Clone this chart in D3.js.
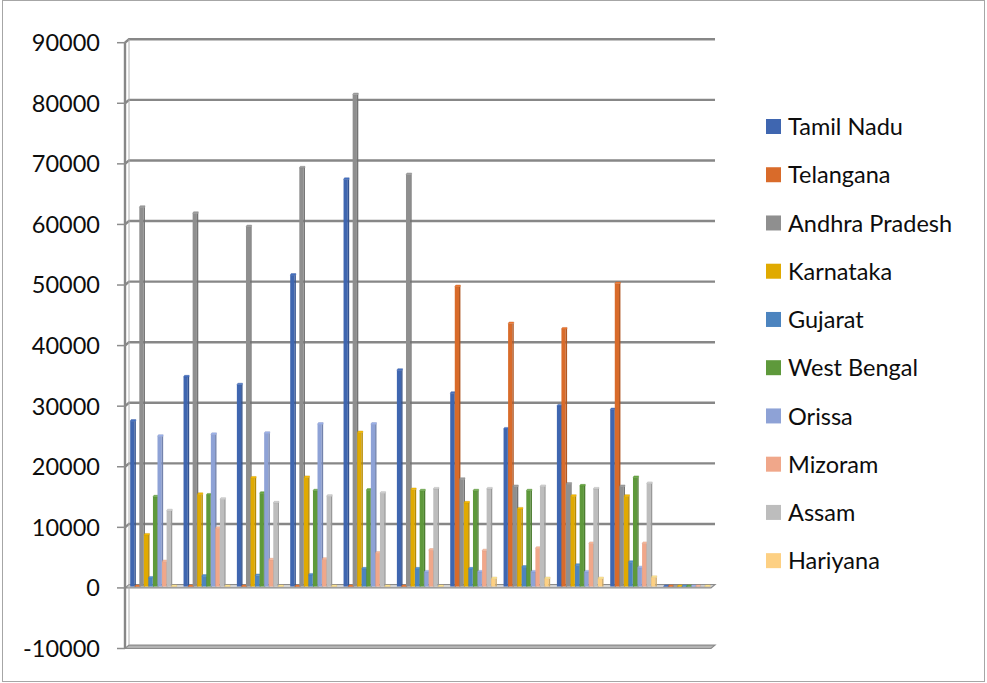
<!DOCTYPE html>
<html>
<head>
<meta charset="utf-8">
<script src="https://cdn.jsdelivr.net/npm/d3@7"></script>
<style>
  html, body { margin: 0; padding: 0; background: #fff; }
  svg { display: block; }
  text { font-family: Lato, "Open Sans", sans-serif; fill: #0d0d0d; }
</style>
</head>
<body>
<svg id="chart" width="987" height="683"></svg>
<script>
// Periods along the category axis (no axis labels are shown)
const categories = ["1", "2", "3", "4", "5", "6", "7", "8", "9", "10", "11"];

const seriesNames = ["Tamil Nadu", "Telangana", "Andhra Pradesh", "Karnataka", "Gujarat",
                     "West Bengal", "Orissa", "Mizoram", "Assam", "Hariyana"];

const seriesColors = ["#3f66b0", "#d96b2a", "#8f8f8f", "#e0aa00", "#4c84bf",
                      "#5e993b", "#8ea2d6", "#f0a78a", "#bdbdbd", "#fdd083"];

const tamilNadu     = [27300, 34600, 33300, 51400, 67200, 35700, 31900, 26000, 29800, 29200, 0];
const telangana     = [0, 0, 0, 0, 0, 0, 49500, 43400, 42500, 50000, 0];
const andhraPradesh = [62600, 61600, 59400, 69100, 81200, 68000, 17700, 16500, 16900, 16500, 0];
const karnataka     = [8500, 15200, 17900, 18000, 25400, 16000, 13800, 12800, 14900, 14900, 0];
const gujarat       = [1400, 1700, 1800, 1900, 2900, 2900, 2900, 3200, 3500, 4000, 0];
const westBengal    = [14800, 15100, 15400, 15800, 15900, 15800, 15800, 15800, 16600, 18000, 0];
const orissa        = [24800, 25100, 25300, 26800, 26800, 2400, 2400, 2400, 2400, 3100, 0];
const mizoram       = [4100, 9600, 4400, 4500, 5500, 6000, 5900, 6300, 7100, 7100, 0];
const assam         = [12500, 14400, 13800, 14900, 15400, 16100, 16100, 16500, 16100, 17000, 0];
const hariyana      = [0, 0, 0, 0, 0, 0, 1300, 1300, 1300, 1500, 0];

const seriesValues = [tamilNadu, telangana, andhraPradesh, karnataka, gujarat,
                      westBengal, orissa, mizoram, assam, hariyana];

const yTicks = [-10000, 0, 10000, 20000, 30000, 40000, 50000, 60000, 70000, 80000, 90000];

const svg = d3.select("#chart");

// chart area frame
svg.append("rect")
  .attr("x", 2.5).attr("y", 0.5).attr("width", 982).attr("height", 681)
  .attr("fill", "#fff").attr("stroke", "#a6a6a6").attr("stroke-width", 1);

// plot geometry: front axis edge and receding depth of the box
const axisX = 125, plotRight = 711;
const depthX = 4, depthY = -3.4;

const y = d3.scaleLinear().domain([-10000, 90000]).range([648.5, 42.7]);

const x0 = d3.scaleBand().domain(categories).range([124, 710.7]).padding(0);
const x1 = d3.scaleBand().domain(seriesNames).range([6.2, 6.2 + 45.5]).padding(0);

const grid = svg.append("g");

// back wall gridlines with the short receding segment from the axis
yTicks.forEach(v => {
  const yf = y(v), yb = yf + depthY;
  if (v === -10000 || v === 0) return;
  grid.append("path")
    .attr("d", `M${axisX},${yf} L${axisX + depthX},${yb} L${plotRight + depthX},${yb}`)
    .attr("fill", "none").attr("stroke", "#878787").attr("stroke-width", 2.4);
});

// thin slabs at the floor (-10000) and at zero
[-10000, 0].forEach(v => {
  const yf = y(v), yb = yf + depthY;
  grid.append("path")
    .attr("d", `M${axisX},${yf} L${plotRight},${yf} L${plotRight + depthX},${yb} L${axisX + depthX},${yb} Z`)
    .attr("fill", v === 0 ? "#d4d4d4" : "#b4b4b4")
    .attr("stroke", "#8c8c8c").attr("stroke-width", 1.2);
});

// left wall edges
grid.append("line")
  .attr("x1", axisX + depthX).attr("x2", axisX + depthX)
  .attr("y1", y(90000) + depthY).attr("y2", y(-10000) + depthY)
  .attr("stroke", "#b0b0b0").attr("stroke-width", 1);
grid.append("line")
  .attr("x1", axisX).attr("x2", axisX)
  .attr("y1", y(90000)).attr("y2", y(-10000))
  .attr("stroke", "#878787").attr("stroke-width", 2.4);

// axis ticks and labels
const yAxisG = svg.append("g");
yTicks.forEach(v => {
  yAxisG.append("line")
    .attr("x1", 117).attr("x2", axisX)
    .attr("y1", y(v)).attr("y2", y(v))
    .attr("stroke", "#8c8c8c").attr("stroke-width", 1.5);
  yAxisG.append("text")
    .attr("x", 100).attr("y", y(v) + 8.4)
    .attr("text-anchor", "end")
    .attr("font-size", 23.5)
    .text(String(v));
});

// bars: front face, darker side strip and a lighter top cap
const barLift = -1.4;
const barW = x1.bandwidth() + 1.1;
const sideW = 1.4;
const capH = 1.6;
const bars = svg.append("g");

categories.forEach((cat, ci) => {
  seriesNames.forEach((name, si) => {
    const v = seriesValues[si][ci];
    const base = y(0) + barLift;
    const top = y(v) + barLift;
    const bx = x0(cat) + x1(name);
    const col = d3.color(seriesColors[si]);
    const g = bars.append("g");
    if (base - top > 0) {
      g.append("rect")
        .attr("x", bx).attr("y", top)
        .attr("width", barW - sideW).attr("height", base - top)
        .attr("fill", col.formatHex());
      g.append("rect")
        .attr("x", bx + barW - sideW).attr("y", top)
        .attr("width", sideW).attr("height", base - top)
        .attr("fill", col.darker(0.6).formatHex());
    }
    g.append("path")
      .attr("d", `M${bx},${top} L${bx + 1},${top - capH} L${bx + barW},${top - capH} L${bx + barW},${top} Z`)
      .attr("fill", col.brighter(0.35).formatHex())
      .attr("stroke", col.darker(0.4).formatHex()).attr("stroke-width", 0.4);
  });
});

// legend
const legend = svg.append("g");
seriesNames.forEach((name, i) => {
  const cy = 126.5 + i * 48.24;
  legend.append("rect")
    .attr("x", 766).attr("y", cy - 7.5)
    .attr("width", 15).attr("height", 15)
    .attr("fill", seriesColors[i]);
  legend.append("text")
    .attr("x", 788).attr("y", cy + 8.6)
    .attr("font-size", 23.5)
    .text(name);
});
</script>
</body>
</html>
